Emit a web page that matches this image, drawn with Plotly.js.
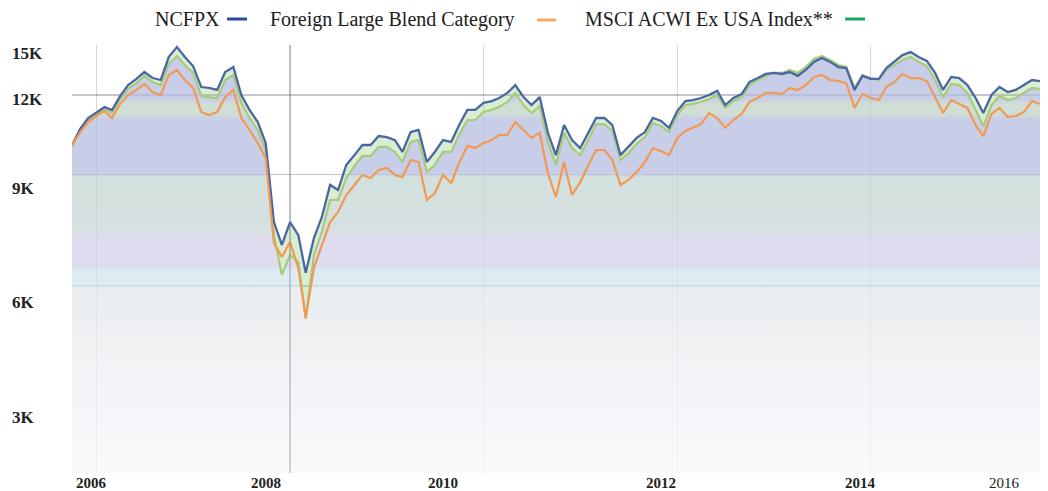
<!DOCTYPE html>
<html>
<head>
<meta charset="utf-8">
<script src="https://cdn.plot.ly/plotly-3.0.1.min.js"></script>
<style>html,body{margin:0;padding:0;background:#fff;}#chart{width:1048px;height:491px;}</style>
</head>
<body>
<div id="chart"></div>
<script>
// Month dates (first of month = end of previous month)
const dates = [
"2006-10","2006-11","2006-12",
"2007-01","2007-02","2007-03","2007-04","2007-05","2007-06","2007-07","2007-08","2007-09","2007-10","2007-11","2007-12",
"2008-01","2008-02","2008-03","2008-04","2008-05","2008-06","2008-07","2008-08","2008-09","2008-10","2008-11","2008-12",
"2009-01","2009-02","2009-03","2009-04","2009-05","2009-06","2009-07","2009-08","2009-09","2009-10","2009-11","2009-12",
"2010-01","2010-02","2010-03","2010-04","2010-05","2010-06","2010-07","2010-08","2010-09","2010-10","2010-11","2010-12",
"2011-01","2011-02","2011-03","2011-04","2011-05","2011-06","2011-07","2011-08","2011-09","2011-10","2011-11","2011-12",
"2012-01","2012-02","2012-03","2012-04","2012-05","2012-06","2012-07","2012-08","2012-09","2012-10","2012-11","2012-12",
"2013-01","2013-02","2013-03","2013-04","2013-05","2013-06","2013-07","2013-08","2013-09","2013-10","2013-11","2013-12",
"2014-01","2014-02","2014-03","2014-04","2014-05","2014-06","2014-07","2014-08","2014-09","2014-10","2014-11","2014-12",
"2015-01","2015-02","2015-03","2015-04","2015-05","2015-06","2015-07","2015-08","2015-09","2015-10","2015-11","2015-12",
"2016-01","2016-02","2016-03","2016-04","2016-05","2016-06","2016-07","2016-08","2016-09","2016-10"
];

const ncfpx = [10000,10610,11040,11280,11490,11365,11960,12443,12720,13040,
 12760,12670,13770,14280,13770,13330,12350,12310,12220,13040,
 13280,12000,11365,10880,10080,7570,6970,7570,7220,6300,
 7140,7710,8660,8500,9310,9650,10010,10010,10340,10300,
 10190,9760,10490,10570,9410,9760,10190,10120,10760,11370,
 11370,11660,11740,11870,12090,12440,11910,11570,11910,10460,
 9650,10760,10190,9900,10460,11040,11040,10760,9650,9940,
 10270,10490,11040,10920,10650,11320,11740,11780,11870,12000,
 12180,11570,11870,12040,12580,12760,12950,13000,12950,13040,
 12860,13140,13530,13720,13530,13280,13230,12220,12860,12720,
 12720,13230,13530,13870,14020,13770,13580,13000,12220,12810,
 12760,12440,11870,11240,12000,12350,12130,12220,12440,12670,
 12620];

const foreignLargeBlend = [10000,10490,10880,11120,11320,11040,11620,12000,12220,12490,
 12130,12000,12900,13140,12670,12310,11280,11160,11280,11910,
 12220,11040,10570,10080,9550,7020,6670,7040,6410,5350,
 6410,6970,7570,7850,8350,8660,8980,8880,9140,9210,
 8980,8910,9480,9410,8200,8410,8980,8720,9380,9970,
 9900,10080,10190,10380,10380,10880,10570,10270,10460,9040,
 8290,9410,8350,8750,9310,9830,9830,9480,8660,8820,
 9080,9410,9900,9790,9650,10270,10530,10650,10800,11240,
 11040,10650,10960,11200,11700,11870,12090,12090,12040,12310,
 12220,12440,12810,12900,12670,12620,12530,11450,12040,11870,
 11780,12350,12580,12950,12760,12760,12620,11910,11240,11780,
 11620,11450,10760,10340,11200,11450,11080,11120,11280,11740,
 11620];

const msciAcwiExUsa = [10000,10530,10960,11200,11410,11240,11830,12260,12530,12860,
 12580,12440,13430,13820,13380,13000,11960,11910,11870,12670,
 12900,11660,11040,10570,9830,7220,6250,6720,6550,5330,
 6720,7300,8200,8200,8880,9280,9620,9620,9940,9940,
 9760,9410,10120,10190,9080,9310,9760,9760,10380,10960,
 10960,11280,11370,11490,11700,12090,11570,11240,11530,10120,
 9310,10460,9900,9650,10190,10800,10800,10530,9480,9720,
 10050,10300,10840,10720,10490,11160,11570,11620,11700,11830,
 12000,11450,11740,11910,12440,12670,12860,13000,13000,13140,
 13000,13280,13670,13820,13620,13380,13280,12310,12900,12760,
 12670,13140,13380,13620,13770,13530,13330,12670,11910,12490,
 12440,12090,11370,10720,11570,11960,11780,11870,12090,12310,
 12260];

const seriesNames = ["NCFPX", "Foreign Large Blend Category", "MSCI ACWI Ex USA Index**"];
const gridDates = ["2007-01-01","2009-01-01","2011-01-01","2013-01-01","2015-01-01"];
const yearLabelDates = ["2006-12-15","2008-10-01","2010-08-01","2012-11-01","2014-11-24","2016-05-19"];
const yearLabels = ["<b>2006</b>","<b>2008</b>","<b>2010</b>","<b>2012</b>","<b>2014</b>","2016"];
const yGridVals = [6000, 9000, 12000];
const yLabels = ["15K","12K","9K","6K","3K"];
const yLabelPos = [0.9801, 0.8727, 0.6636, 0.3972, 0.1297];

const colBlue = "#4a67a3", colOrange = "#f09a55", colGreen = "#a6cb7c";
const legBlue = "#2b4aa0", legOrange = "#f5aa66", legGreen = "#18aa5c";

const serif = "Liberation Serif, Times New Roman, serif";

const gradient = {
  type: "vertical",
  start: 3048,
  stop: 14390,
  colorscale: [
    [0, "rgba(248,248,251,0.75)"],
    [0.17, "rgba(240,242,246,0.75)"],
    [0.334, "rgba(232,235,238,0.75)"],
    [0.432, "rgba(226,231,234,0.75)"],
    [0.438, "rgba(208,230,235,0.75)"],
    [0.47, "rgba(208,230,235,0.75)"],
    [0.484, "rgba(211,208,232,0.75)"],
    [0.549, "rgba(211,208,232,0.75)"],
    [0.568, "rgba(200,215,214,0.75)"],
    [0.69, "rgba(195,214,211,0.75)"],
    [0.70, "rgba(182,190,224,0.75)"],
    [0.827, "rgba(182,190,224,0.75)"],
    [0.838, "rgba(192,211,200,0.75)"],
    [0.862, "rgba(192,211,200,0.75)"],
    [0.873, "rgba(182,190,224,0.75)"],
    [1, "rgba(179,187,226,0.75)"]
  ]
};

const traces = [
  { x: dates, y: msciAcwiExUsa, name: seriesNames[2], type: "scatter", mode: "lines",
    line: {color: colGreen, width: 2.2}, fill: "tozeroy", fillgradient: gradient },
  { x: dates, y: ncfpx, name: seriesNames[0], type: "scatter", mode: "lines",
    line: {color: colBlue, width: 2.3}, fill: "tonexty", fillcolor: "rgba(150,200,125,0.35)" },
  { x: dates, y: foreignLargeBlend, name: seriesNames[1], type: "scatter", mode: "lines",
    line: {color: colOrange, width: 2.2} }
];

const legendY = 1.0607;
const annotations = [
  {text: seriesNames[0], x: 0.0837, xanchor: "left"},
  {text: seriesNames[1], x: 0.2025, xanchor: "left"},
  {text: seriesNames[2], x: 0.5279, xanchor: "left"}
].map(a => Object.assign({xref: "paper", yref: "paper", y: legendY, yanchor: "middle", showarrow: false,
  font: {family: serif, size: 20, color: "#1c1c1c"}}, a));

// y-axis tick labels
yLabels.forEach((t, i) => annotations.push({
  text: "<b>" + t + "</b>", xref: "paper", yref: "paper", x: -0.064, y: yLabelPos[i],
  xanchor: "left", yanchor: "middle", showarrow: false,
  font: {family: serif, size: 17, color: "#222"}
}));

// x-axis year labels
yearLabels.forEach((t, i) => annotations.push({
  text: t, xref: "x", yref: "paper", x: yearLabelDates[i], y: -0.0234,
  xanchor: "center", yanchor: "middle", showarrow: false,
  font: {family: serif, size: 15, color: "#222"}
}));

const shapes = [
  {type: "line", xref: "paper", yref: "paper", x0: 0.1601, x1: 0.1808, y0: legendY, y1: legendY, line: {color: legBlue, width: 3}},
  {type: "line", xref: "paper", yref: "paper", x0: 0.4804, x1: 0.5000, y0: 1.0584, y1: 1.0584, line: {color: legOrange, width: 3}},
  {type: "line", xref: "paper", yref: "paper", x0: 0.7986, x1: 0.8192, y0: legendY, y1: legendY, line: {color: legGreen, width: 3}},
  {type: "line", xref: "x", yref: "paper", x0: gridDates[1], x1: gridDates[1], y0: 0, y1: 1, layer: "above", line: {color: "rgba(120,120,135,0.45)", width: 1.2}}
];

const xr = ["2006-10-01", "2016-10-01"];
const yr = [3.4839, 4.1579];

const layout = {
  width: 1048, height: 491,
  margin: {l: 72, r: 8, t: 45, b: 18},
  paper_bgcolor: "#ffffff", plot_bgcolor: "#ffffff",
  showlegend: false,
  xaxis: {type: "date", range: xr, tickmode: "array", tickvals: gridDates, showticklabels: false,
    showgrid: true, gridcolor: "rgba(140,140,155,0.35)", gridwidth: 1.2, zeroline: false, showline: false, ticks: ""},
  yaxis: {type: "log", range: yr, tickmode: "array", tickvals: yGridVals, showticklabels: false,
    showgrid: true, gridcolor: "rgba(110,110,125,0.4)", gridwidth: 1.5, zeroline: false, showline: false, ticks: ""},
  annotations: annotations,
  shapes: shapes
};

Plotly.newPlot("chart", traces, layout, {displayModeBar: false, staticPlot: true});
</script>
</body>
</html>
